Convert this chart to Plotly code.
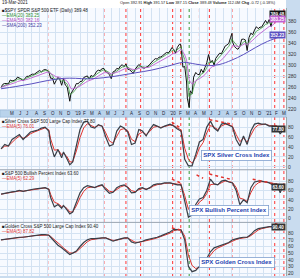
import pandas as pd
import plotly.graph_objects as go

# ---------------- data ----------------
price_dates = [
"2018-04-06","2018-04-13","2018-04-20","2018-04-27","2018-05-04","2018-05-11","2018-05-18","2018-05-25",
"2018-06-01","2018-06-08","2018-06-15","2018-06-22","2018-06-29","2018-07-06","2018-07-13","2018-07-20",
"2018-07-27","2018-08-03","2018-08-10","2018-08-17","2018-08-24","2018-08-31","2018-09-07","2018-09-14",
"2018-09-21","2018-09-28","2018-10-05","2018-10-12","2018-10-19","2018-10-26","2018-11-02","2018-11-09",
"2018-11-16","2018-11-23","2018-11-30","2018-12-07","2018-12-14","2018-12-21","2018-12-24","2018-12-28",
"2019-01-04","2019-01-11","2019-01-18","2019-01-25","2019-02-01","2019-02-08","2019-02-15","2019-02-22",
"2019-03-01","2019-03-08","2019-03-15","2019-03-22","2019-03-29","2019-04-05","2019-04-12","2019-04-18",
"2019-04-26","2019-05-03","2019-05-10","2019-05-17","2019-05-24","2019-05-31","2019-06-07","2019-06-14",
"2019-06-21","2019-06-28","2019-07-05","2019-07-12","2019-07-19","2019-07-26","2019-08-02","2019-08-09",
"2019-08-16","2019-08-23","2019-08-30","2019-09-06","2019-09-13","2019-09-20","2019-09-27","2019-10-04",
"2019-10-11","2019-10-18","2019-10-25","2019-11-01","2019-11-08","2019-11-15","2019-11-22","2019-11-29",
"2019-12-06","2019-12-13","2019-12-20","2019-12-27","2020-01-03","2020-01-10","2020-01-17","2020-01-24",
"2020-01-31","2020-02-07","2020-02-14","2020-02-19","2020-02-21","2020-02-28","2020-03-06","2020-03-13",
"2020-03-16","2020-03-20","2020-03-23","2020-03-27","2020-04-03","2020-04-09","2020-04-17","2020-04-24",
"2020-05-01","2020-05-08","2020-05-15","2020-05-22","2020-05-29","2020-06-05","2020-06-12","2020-06-19",
"2020-06-26","2020-07-02","2020-07-10","2020-07-17","2020-07-24","2020-07-31","2020-08-07","2020-08-14",
"2020-08-21","2020-08-28","2020-09-02","2020-09-04","2020-09-11","2020-09-18","2020-09-25","2020-10-02",
"2020-10-09","2020-10-16","2020-10-23","2020-10-30","2020-11-06","2020-11-13","2020-11-20","2020-11-27",
"2020-12-04","2020-12-11","2020-12-18","2020-12-24","2020-12-31","2021-01-08","2021-01-15","2021-01-22",
"2021-01-29","2021-02-05","2021-02-12","2021-02-19","2021-02-26","2021-03-05","2021-03-12","2021-03-19"]
price_close = [
259.7,265.2,266.6,266.6,266.0,272.9,271.3,272.2,
273.6,278.2,277.1,274.7,271.3,275.4,279.6,279.7,
281.4,283.6,283.2,285.1,287.5,290.3,287.6,290.9,
292.0,290.7,287.8,276.0,276.3,265.3,271.9,277.8,
273.7,263.3,275.7,263.6,260.5,240.7,234.3,247.8,
252.4,259.0,266.5,266.0,270.1,270.5,277.4,279.1,
280.4,274.5,281.3,279.3,282.5,288.6,290.7,290.0,
293.4,294.0,288.1,285.8,282.8,275.3,287.7,289.3,
294.0,293.0,298.5,300.7,297.2,302.0,292.6,291.6,
288.9,284.9,292.5,298.1,301.1,298.3,295.4,294.4,
296.3,298.0,301.6,306.1,308.9,311.8,311.0,314.3,
314.9,317.3,320.7,322.9,322.4,325.7,332.0,328.8,
321.7,332.2,337.6,338.3,333.5,296.3,297.5,269.3,
239.9,228.8,223.0,253.4,248.2,278.2,286.6,283.0,
282.8,292.4,286.3,295.4,304.3,319.3,304.2,308.6,
300.1,312.2,317.6,321.7,320.9,326.5,334.6,336.8,
339.5,350.6,357.7,342.6,334.1,330.7,328.7,333.8,
346.9,347.3,345.8,326.5,350.2,358.1,355.3,363.7,
369.9,366.3,369.2,369.0,373.9,381.3,375.7,382.9,
370.1,387.7,392.6,390.0,380.4,383.6,394.1,389.5]

sma200_dates = ["2018-04-06","2018-06-01","2018-08-01","2018-10-01","2018-12-01","2019-01-15","2019-03-01",
                "2019-05-01","2019-07-01","2019-09-01","2019-11-01","2020-01-01","2020-03-01","2020-04-15",
                "2020-06-01","2020-07-15","2020-09-01","2020-10-15","2020-12-01","2021-01-15","2021-03-19"]
sma200_vals = [257,261,266,272,276,276,275,277,281,286,291,298,305,302,299,301,309,319,332,343,354]

ind_dates = [
"2018-04-06","2018-04-20","2018-05-04","2018-05-18","2018-06-01","2018-06-15","2018-06-29","2018-07-13",
"2018-07-27","2018-08-10","2018-08-24","2018-09-07","2018-09-21","2018-10-05","2018-10-12","2018-10-26",
"2018-11-09","2018-11-23","2018-11-30","2018-12-14","2018-12-24","2019-01-04","2019-01-18","2019-02-01",
"2019-02-15","2019-03-01","2019-03-15","2019-03-29","2019-04-12","2019-04-26","2019-05-10","2019-05-24",
"2019-06-07","2019-06-21","2019-07-05","2019-07-19","2019-08-02","2019-08-16","2019-08-30","2019-09-13",
"2019-09-27","2019-10-11","2019-10-25","2019-11-08","2019-11-22","2019-12-06","2019-12-20","2020-01-10",
"2020-01-24","2020-02-07","2020-02-21","2020-03-06","2020-03-20","2020-04-03","2020-04-17","2020-05-01",
"2020-05-15","2020-05-29","2020-06-12","2020-06-26","2020-07-10","2020-07-24","2020-08-07","2020-08-21",
"2020-09-04","2020-09-18","2020-10-02","2020-10-16","2020-10-30","2020-11-13","2020-11-27","2020-12-11",
"2020-12-24","2021-01-08","2021-01-22","2021-02-05","2021-02-19","2021-03-05","2021-03-12","2021-03-19"]
silver_vals = [
36,45,42,55,60,65,55,62,70,72,74,78,80,72,45,20,35,18,30,15,4,10,45,75,
90,92,80,78,85,82,60,42,45,72,82,78,70,45,48,75,72,62,75,85,82,78,82,86,
82,76,72,15,2,2,25,50,55,80,92,78,72,86,88,84,80,55,42,62,45,72,86,88,
86,86,82,82,80,66,72,77.8]
bullish_vals = [
52,54,55,57,58,60,58,60,62,63,64,65,66,62,45,25,30,22,28,18,10,14,35,55,
66,70,68,66,70,72,62,54,56,66,70,72,66,55,56,64,66,62,66,72,74,74,76,76,
74,72,72,35,3,8,30,42,45,60,84,74,72,80,82,78,76,60,30,40,34,66,78,80,
80,78,76,72,74,55,66,63.6]
golden_vals = [
70,71,71,72,73,74,74,75,76,77,77,78,78,77,74,68,62,58,56,52,48,50,53,60,
66,70,72,72,73,73,73,70,68,70,72,73,73,67,65,66,68,70,71,72,74,76,78,82,
86,86,85,70,30,22,24,30,35,42,52,58,60,62,63,66,70,72,73,74,74,78,84,87,
88,90,90,90,91,90,90,90.4]

# dotted trend-line annotations (date, value pairs)
silver_trends = [(["2020-01-17","2020-02-19"],[90,78]),(["2020-06-08","2020-09-02"],[95,86]),
                 (["2021-02-10","2021-03-19"],[84,76])]
bullish_trends = [(["2020-01-17","2020-02-19"],[84,76]),(["2020-04-20","2020-05-15"],[93,86]),
                  (["2020-06-08","2020-09-02"],[95,83]),(["2020-11-20","2021-03-19"],[84,70])]
golden_trends = [(["2020-01-17","2020-02-19"],[88,85]),(["2021-02-12","2021-03-19"],[95,90])]

event_dates = ["2018-10-01","2019-05-03","2019-07-26","2019-09-20","2020-01-20","2020-02-20",
               "2020-03-23","2020-05-01","2020-06-08","2020-09-02","2021-02-12","2021-03-19"]
event_colors = ["red"]*6 + ["green"] + ["red"]*5

# ---------------- derived moving averages ----------------
ps = pd.Series(price_close, index=pd.to_datetime(price_dates))
ema20 = ps.ewm(span=4, adjust=False).mean()
ema50 = ps.ewm(span=10, adjust=False).mean()
idx = pd.to_datetime(ind_dates)
def sig(v):
    return pd.Series(v, index=idx).ewm(span=2.2, adjust=False).mean()

# ---------------- layout constants ----------------
H = 278.0
def py(px):
    return 1 - px / H

FONT = "Liberation Sans"
GRID = "#d3e2f2"
IND = "#3a3f48"
RED = "#e2342f"

fig = go.Figure()

# price panel
fig.add_trace(go.Scatter(x=ps.index, y=ps.values, mode="lines", line=dict(color="#101010", width=1), xaxis="x", yaxis="y"))
fig.add_trace(go.Scatter(x=ema20.index, y=ema20.values, mode="lines", line=dict(color="#3c9a3c", width=0.8), xaxis="x", yaxis="y"))
fig.add_trace(go.Scatter(x=ema50.index, y=ema50.values, mode="lines", line=dict(color="#c060d0", width=0.9), xaxis="x", yaxis="y"))
fig.add_trace(go.Scatter(x=pd.to_datetime(sma200_dates), y=sma200_vals, mode="lines", line=dict(color="#5a4fc0", width=1, shape="spline"), xaxis="x", yaxis="y"))

for vals, ax in [(silver_vals, "y2"), (bullish_vals, "y3"), (golden_vals, "y4")]:
    fig.add_trace(go.Scatter(x=idx, y=sig(vals).values, mode="lines", line=dict(color=RED, width=1), xaxis="x", yaxis=ax))
    fig.add_trace(go.Scatter(x=idx, y=vals, mode="lines", line=dict(color=IND, width=1.2), xaxis="x", yaxis=ax))

for trends, ax in [(silver_trends, "y2"), (bullish_trends, "y3"), (golden_trends, "y4")]:
    for xs, ys in trends:
        fig.add_trace(go.Scatter(x=pd.to_datetime(xs), y=ys, mode="lines", line=dict(color=RED, width=1.5, dash="dot"), xaxis="x", yaxis=ax))

xr = ["2018-04-02", "2021-03-27"]
common_x = dict(type="date", range=xr, showticklabels=False, showgrid=True, gridcolor=GRID, gridwidth=1,
                dtick="M1", tick0="2018-01-01", zeroline=False, showline=False, ticks="")
def yax(domain, rng, tickvals):
    return dict(domain=domain, range=rng, side="right", anchor="x", showgrid=True, gridcolor=GRID, gridwidth=1,
                zeroline=False, tickvals=tickvals, tickfont=dict(size=5, color="#333", family=FONT),
                ticks="", showline=True, linecolor="#9aa", linewidth=1, mirror=False)

fig.update_layout(
    width=300, height=278, margin=dict(l=0, r=14, t=0, b=0),
    paper_bgcolor="#c9dcef", plot_bgcolor="#f7faff", showlegend=False,
    xaxis=common_x,
    yaxis=yax([py(111), py(8)], [218, 404], [220, 240, 260, 280, 300, 320, 340, 360, 380]),
    yaxis2=yax([py(171), py(118)], [-6, 100], [0, 20, 40, 60, 80]),
    yaxis3=yax([py(224), py(171)], [-8, 104], [0, 20, 40, 60, 80]),
    yaxis4=yax([py(278), py(224)], [15.5, 96.4], [20, 30, 40, 50, 60, 70, 80]),
)

shapes = []
# header band and date strip
shapes.append(dict(type="rect", xref="paper", yref="paper", x0=0, x1=1, y0=py(8), y1=1, fillcolor="#ffffff", line=dict(width=0), layer="above"))
shapes.append(dict(type="rect", xref="paper", yref="paper", x0=0, x1=1, y0=py(118), y1=py(111), fillcolor="#b9d3ec", line=dict(color="#8fb0d0", width=0.5), layer="above"))
# panel separators
for pxy in [171, 224]:
    shapes.append(dict(type="line", xref="paper", yref="paper", x0=0, x1=1, y0=py(pxy), y1=py(pxy), line=dict(color="#9aa4b0", width=1), layer="above"))
# event lines
for d, c in zip(event_dates, event_colors):
    shapes.append(dict(type="line", xref="x", yref="paper", x0=d, x1=d, y0=0, y1=py(8), line=dict(color=c, width=0.8, dash="dot"), layer="below"))
fig.update_layout(shapes=shapes)

ann = []
def text(xp, ypx, s, color="#222", size=5):
    ann.append(dict(x=xp, y=py(ypx), xref="paper", yref="paper", text=s,
                    showarrow=False, xanchor="left", yanchor="middle", font=dict(size=size, color=color, family=FONT),
                    borderpad=0))

# header
text(0.003, 3, "19-Mar-2021", size=4.5)
text(0.415, 3, "Open 392.91 <b>High</b> 391.57 <b>Low</b> 387.15 <b>Close</b> 389.48 <b>Volume</b> 112.0M <b>Chg</b> -0.72 (-0.18%)", size=3.9)
# price legend
text(0.003, 11, "■$SPY SPDR S&P 500 ETF (Daily) 389.48", size=4.5)
text(0.003, 16, "—EMA(20) 383.25", color="#2f8f2f", size=4.5)
text(0.003, 21, "—EMA(50) 382.16", color="#b04cc0", size=4.5)
text(0.003, 26, "—SMA(200) 352.23", color="#3f3aa0", size=4.5)
# indicator legends
text(0.003, 122, "■Silver Cross S&P 500 Large Cap Index 77.80", size=4.5)
text(0.003, 127, "—EMA(5) 76.01", color=RED, size=4.5)
text(0.003, 175, "■S&P 500 Bullish Percent Index 63.60", size=4.5)
text(0.003, 180, "—EMA(5) 62.29", color=RED, size=4.5)
text(0.003, 228, "■Golden Cross S&P 500 Large Cap Index 90.40", size=4.5)
text(0.003, 233, "—EMA(5) 87.82", color=RED, size=4.5)

# month letters in date strip
for m in pd.date_range("2018-05-01", "2021-03-01", freq="MS"):
    lab = ("'" + m.strftime("%y")) if m.month == 1 else m.strftime("%b")[0]
    ann.append(dict(x=m + pd.Timedelta(days=3), y=py(114.5), xref="x", yref="paper", text=lab, showarrow=False,
                    xanchor="left", yanchor="middle", font=dict(size=4.5, color="#223", family=FONT)))

# right value boxes
def vbox(ypx, s, bg, fg="white"):
    ann.append(dict(x=1.0, y=py(ypx), xref="paper", yref="paper", text="<b>%s</b>" % s, showarrow=False,
                    xanchor="right", yanchor="middle", font=dict(size=4.5, color=fg, family=FONT),
                    bgcolor=bg, borderpad=0.5))
vbox(14, "389.48", "#111")
vbox(19.5, "383.25", "#c060d0")
vbox(35, "352.23", "#5a4fc0")
vbox(130, "77.80", "#333")
vbox(188, "63.60", "#333")
vbox(229, "90.40", "#333")

# callout labels
for xd, ypx, s in [("2020-09-20", 157, "SPX Silver Cross Index"), ("2020-08-20", 212, "SPX Bullish Percent Index"),
                   ("2020-09-20", 264, "SPX Golden Cross Index")]:
    ann.append(dict(x=xd, y=py(ypx), xref="x", yref="paper", text="<b>%s</b>" % s, showarrow=False,
                    xanchor="center", yanchor="middle", font=dict(size=6, color="#1d3fb0", family=FONT),
                    bgcolor="white", bordercolor="#7f9fcf", borderwidth=0.8, borderpad=1.5))
fig.update_layout(annotations=ann)

fig.write_html("out.html")
